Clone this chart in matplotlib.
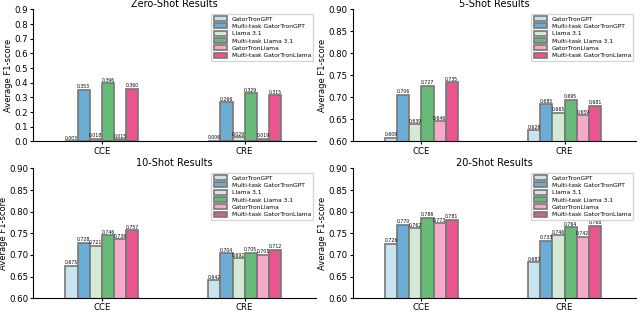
import numpy as np
import matplotlib.pyplot as plt

tasks = ['CCE', 'CRE']
models = ['GatorTronGPT', 'Multi-task GatorTronGPT', 'Llama 3.1',
          'Multi-task Llama 3.1', 'GatorTronLlama', 'Multi-task GatorTronLlama']
colors = ['#c9e3f0', '#6aaed6', '#d3ead3', '#66bb76', '#f4aac8', '#e8558f']

zero_shot = [[0.003, 0.006], [0.353, 0.266], [0.018, 0.029],
             [0.396, 0.329], [0.015, 0.019], [0.360, 0.315]]
five_shot = [[0.609, 0.626], [0.706, 0.685], [0.639, 0.665],
             [0.727, 0.695], [0.646, 0.659], [0.735, 0.681]]
ten_shot = [[0.675, 0.642], [0.728, 0.704], [0.721, 0.692],
            [0.746, 0.705], [0.736, 0.701], [0.757, 0.712]]
twenty_shot = [[0.726, 0.683], [0.770, 0.733], [0.762, 0.746],
               [0.786, 0.764], [0.773, 0.742], [0.781, 0.768]]

panels = [('Zero-Shot Results', zero_shot, (0, 0.9)),
          ('5-Shot Results', five_shot, (0.6, 0.9)),
          ('10-Shot Results', ten_shot, (0.6, 0.9)),
          ('20-Shot Results', twenty_shot, (0.6, 0.9))]

fig = plt.figure(figsize=(6.4, 3.13), dpi=100)
boxes = [[0.052, 0.548, 0.442, 0.422], [0.551, 0.548, 0.443, 0.422],
         [0.052, 0.047, 0.442, 0.415], [0.551, 0.047, 0.443, 0.415]]

x = np.arange(len(tasks))
width = 0.085

for (title, data, ylim), box in zip(panels, boxes):
    ax = fig.add_axes(box)
    for i, (name, vals) in enumerate(zip(models, data)):
        pos = x + (i - 2.5) * width
        bars = ax.bar(pos, vals, width, color=colors[i], label=name,
                      edgecolor='#777777', linewidth=1.2)
        for b, v in zip(bars, vals):
            ax.text(b.get_x() + b.get_width() / 2, v + (ylim[1] - ylim[0]) * 0.004,
                    f'{v:.3f}', ha='center', va='bottom', fontsize=3.3)
    ax.set_xlim(-0.48, 1.5)
    ax.set_ylim(*ylim)
    if ylim[0] == 0:
        ticks = np.arange(0, 0.91, 0.1)
        ax.set_yticks(ticks)
        ax.set_yticklabels([f'{t:.1f}' for t in ticks])
    else:
        ticks = np.arange(0.6, 0.901, 0.05)
        ax.set_yticks(ticks)
        ax.set_yticklabels([f'{t:.2f}' for t in ticks])
    ax.set_xticks(x)
    ax.set_xticklabels(tasks)
    ax.tick_params(labelsize=6.2, length=2.5, pad=1.2)
    ax.set_title(title, fontsize=7, pad=1)
    ax.set_ylabel('Average F1-score', fontsize=6, labelpad=1)
    ax.spines['top'].set_visible(False)
    ax.spines['right'].set_visible(False)
    ax.legend(loc='upper right', fontsize=4.3, frameon=True, handlelength=2.2,
              handleheight=0.9, labelspacing=0.3, borderpad=0.4,
              bbox_to_anchor=(1.0, 0.99))

plt.savefig('out.png', dpi=100)
